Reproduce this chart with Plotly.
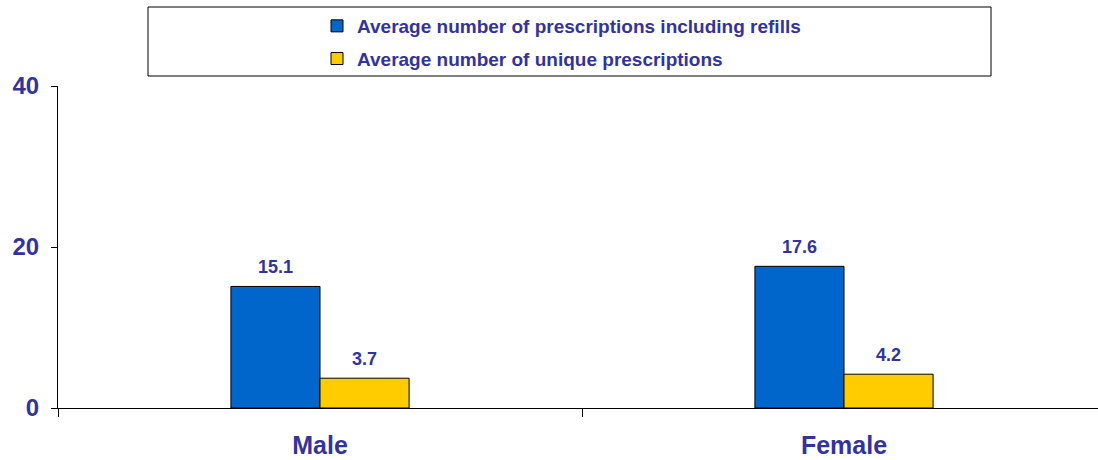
import plotly.graph_objects as go

categories = ["Male", "Female"]
refills = [15.1, 17.6]
unique = [3.7, 4.2]
series_names = ["Average number of prescriptions including refills",
                "Average number of unique prescriptions"]
y_ticks = [0, 20, 40]

TXT = "#333399"
FONT = "Liberation Sans, Arial, sans-serif"
colors = ["#0066CC", "#FFCC00"]

fig = go.Figure()
for vals, name, col, grp in [(refills, series_names[0], colors[0], "a"),
                             (unique, series_names[1], colors[1], "b")]:
    fig.add_trace(go.Bar(
        x=categories, y=vals, name=name,
        marker=dict(color=col, line=dict(color="black", width=1)),
        legendgroup=grp,
    ))

# value labels above bars
for vals, shift in [(refills, -44.5), (unique, 44.5)]:
    for c, v in zip(categories, vals):
        fig.add_annotation(x=c, y=v, text=f"{v:.1f}", showarrow=False,
                           xshift=shift, yanchor="bottom", yshift=7,
                           font=dict(size=18, color=TXT, family=FONT, weight="bold"))

W, H = 1098, 460
L, R, T, B = 58, 0, 86, 52
pw = W - L - R
ph = H - T - B

def px(x):
    return (x - L) / pw

def py(y):
    return (H - B - y) / ph

fig.add_shape(type="rect", xref="paper", yref="paper",
              x0=px(148), x1=px(991), y0=py(76), y1=py(7),
              line=dict(color="black", width=1), fillcolor="white", layer="below")

fig.update_layout(
    width=W, height=H,
    margin=dict(l=L, r=R, t=T, b=B),
    paper_bgcolor="white", plot_bgcolor="white",
    barmode="group", bargap=0.66, bargroupgap=0,
    font=dict(family=FONT, color=TXT),
    showlegend=True,
    legend=dict(
        x=px(317), xanchor="left", y=py(7), yanchor="top",
        font=dict(size=19, color=TXT, family=FONT, weight="bold"),
        bgcolor="rgba(0,0,0,0)", borderwidth=0,
        tracegroupgap=5, traceorder="grouped",
    ),
    xaxis=dict(
        type="category", range=[-0.5, 1.5 - 8 / 524],
        showline=True, linecolor="black", linewidth=1,
        ticks="outside", tickson="boundaries", ticklen=8, tickcolor="black",
        tickfont=dict(size=25, color=TXT, family=FONT, weight="bold"),
        ticklabelstandoff=15,
        showgrid=False, zeroline=False,
    ),
    yaxis=dict(
        range=[0, 40], tickvals=y_ticks,
        showline=True, linecolor="black", linewidth=1,
        ticks="outside", ticklen=6, tickcolor="black",
        tickfont=dict(size=24, color=TXT, family=FONT, weight="bold"),
        ticklabelstandoff=7,
        showgrid=False, zeroline=False,
    ),
)

fig.write_html("out.html")
